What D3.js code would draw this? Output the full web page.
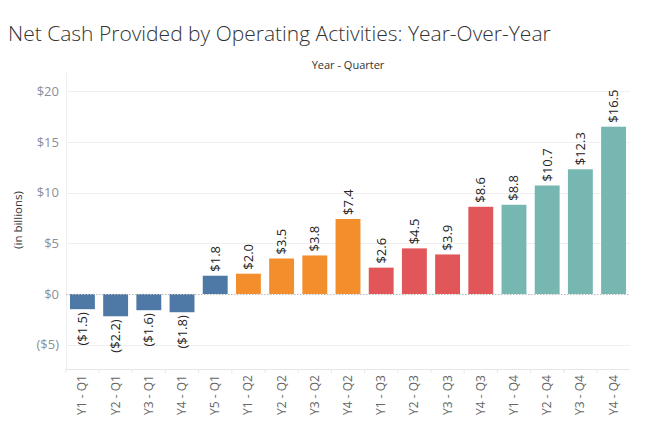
<!DOCTYPE html>
<html>
<head>
<meta charset="utf-8">
<script src="https://cdn.jsdelivr.net/npm/d3@7"></script>
<style>
  body { margin: 0; background: #fff; }
  svg { font-family: "Open Sans", "DejaVu Sans", sans-serif; }
</style>
</head>
<body>
<svg id="chart" width="655" height="445"></svg>
<script>
// data
const categories = ["Y1 - Q1", "Y2 - Q1", "Y3 - Q1", "Y4 - Q1", "Y5 - Q1",
  "Y1 - Q2", "Y2 - Q2", "Y3 - Q2", "Y4 - Q2",
  "Y1 - Q3", "Y2 - Q3", "Y3 - Q3", "Y4 - Q3",
  "Y1 - Q4", "Y2 - Q4", "Y3 - Q4", "Y4 - Q4"];
const values = [-1.5, -2.2, -1.6, -1.8, 1.8, 2.0, 3.5, 3.8, 7.4, 2.6, 4.5, 3.9, 8.6, 8.8, 10.7, 12.3, 16.5];
const quarters = ["Q1", "Q1", "Q1", "Q1", "Q1", "Q2", "Q2", "Q2", "Q2", "Q3", "Q3", "Q3", "Q3", "Q4", "Q4", "Q4", "Q4"];
const yTicks = [-5, 0, 5, 10, 15, 20];

const colors = {Q1: "#4e79a7", Q2: "#f28e2b", Q3: "#e15759", Q4: "#76b7b2"};

const svg = d3.select("#chart");
const pLeft = 66, pRight = 630, pTop = 75, pBottom = 369;

const x = d3.scaleBand().domain(categories).range([pLeft, pRight]).paddingInner(0.25).paddingOuter(0.12);
const y = d3.scaleLinear().domain([-7.4, 21.6]).range([pBottom, pTop]);

const fmt = v => v < 0 ? "($" + Math.abs(v).toFixed(1) + ")" : "$" + v.toFixed(1);
const tickFmt = v => v < 0 ? "($" + Math.abs(v) + ")" : "$" + v;

// title
svg.append("text").attr("x", 8).attr("y", 41)
  .style("font-size", "21px").style("fill", "#333").style("font-weight", 300)
  .text("Net Cash Provided by Operating Activities: Year-Over-Year");

svg.append("text").attr("x", (pLeft + pRight) / 2).attr("y", 69).attr("text-anchor", "middle")
  .style("font-size", "11px").style("fill", "#333")
  .text("Year - Quarter");

// gridlines
svg.append("g").selectAll("line").data(yTicks.filter(d => d !== 0)).join("line")
  .attr("x1", pLeft).attr("x2", pRight)
  .attr("y1", d => Math.round(y(d)) + 0.5).attr("y2", d => Math.round(y(d)) + 0.5)
  .attr("stroke", "#efefef").attr("stroke-width", 1);

// left border + bottom border
svg.append("line").attr("x1", pLeft + 0.5).attr("x2", pLeft + 0.5).attr("y1", pTop - 2).attr("y2", pBottom)
  .attr("stroke", "#f0f0f0");
svg.append("line").attr("x1", pLeft).attr("x2", pRight).attr("y1", pBottom + 0.5).attr("y2", pBottom + 0.5)
  .attr("stroke", "#e6e6e6");

// y axis labels
const yAxis = d3.axisLeft(y).tickValues(yTicks).tickFormat(tickFmt).tickSize(0).tickPadding(7);
const gy = svg.append("g").attr("transform", `translate(${pLeft},0)`).call(yAxis);
gy.select(".domain").remove();
gy.selectAll("text").style("font-size", "13px").style("fill", "#8a8f99")
  .style("font-family", "'Open Sans', sans-serif");

svg.append("text")
  .attr("transform", `translate(22,220) rotate(-90)`)
  .attr("text-anchor", "middle")
  .style("font-size", "11.5px").style("fill", "#333")
  .text("(in billions)");

// bars
svg.append("g").selectAll("rect").data(values).join("rect")
  .attr("x", (d, i) => x(categories[i]))
  .attr("width", x.bandwidth())
  .attr("y", d => y(Math.max(0, d)))
  .attr("height", d => Math.abs(y(d) - y(0)))
  .attr("fill", (d, i) => colors[quarters[i]]);

// zero line
svg.append("line").attr("x1", pLeft).attr("x2", pRight)
  .attr("y1", Math.round(y(0)) + 0.5).attr("y2", Math.round(y(0)) + 0.5)
  .attr("stroke", "#bbb").attr("stroke-dasharray", "1.5,1.5");

// value labels
svg.append("g").selectAll("text").data(values).join("text")
  .attr("transform", (d, i) => {
    const cx = x(categories[i]) + x.bandwidth() / 2;
    const yy = d >= 0 ? y(d) - 4 : y(d) + 3;
    return `translate(${cx + 4.5},${yy}) rotate(-90)`;
  })
  .attr("text-anchor", d => d >= 0 ? "start" : "end")
  .style("font-size", "13px").style("fill", "#222")
  .text(fmt);

// x axis
const xAxis = d3.axisBottom(x).tickSize(0).tickPadding(0);
const gx = svg.append("g").attr("transform", `translate(0,${pBottom})`).call(xAxis);
gx.select(".domain").remove();
gx.selectAll("text")
  .attr("transform", "translate(4,6) rotate(-90)")
  .attr("text-anchor", "end").attr("dy", 0).attr("y", 0)
  .style("font-size", "12px").style("fill", "#666")
  .style("font-family", "'Open Sans', sans-serif");

// tick separators between bands
const step = x.step();
svg.append("g").selectAll("line").data(categories).join("line")
  .attr("x1", d => x(d) - step * x.paddingInner() / 2)
  .attr("x2", d => x(d) - step * x.paddingInner() / 2)
  .attr("y1", pBottom).attr("y2", pBottom + 4)
  .attr("stroke", "#e6e6e6");
</script>
</body>
</html>
